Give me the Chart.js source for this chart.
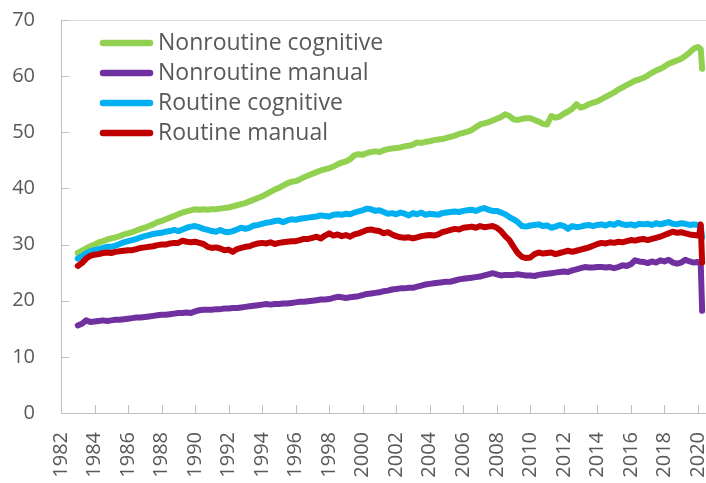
<!DOCTYPE html>
<html>
<head>
<meta charset="utf-8">
<script src="https://cdn.jsdelivr.net/npm/chart.js@4/dist/chart.umd.min.js"></script>
<style>
html,body{margin:0;padding:0;background:#fff;}
#wrap{width:706px;height:483px;}
</style>
</head>
<body>
<div id="wrap"><canvas id="c" width="706" height="483"></canvas></div>
<script>
// Series labels
const seriesNames = ["Nonroutine cognitive", "Nonroutine manual", "Routine cognitive", "Routine manual"];
// Quarterly observations 1983Q1..2019Q4, then monthly Jan..Apr 2020
const firstYear = 1983, lastQuarterYear = 2019;
const months2020 = [0, 1, 2, 3];

const nonroutineCognitive = [
 28.5,28.9,29.3,29.7, 30.0,30.4,30.6,30.9, 31.1,31.3,31.5,31.8, 32.0,32.2,32.5,32.8,
 33.0,33.3,33.6,34.0, 34.2,34.5,34.8,35.1, 35.4,35.7,35.9,36.1, 36.3,36.2,36.3,36.2,
 36.3,36.3,36.4,36.5, 36.6,36.8,37.0,37.2, 37.4,37.7,38.0,38.3, 38.6,39.0,39.4,39.8,
 40.1,40.5,40.9,41.2, 41.3,41.6,42.0,42.3, 42.6,42.9,43.2,43.4, 43.6,43.9,44.3,44.6,
 44.8,45.2,45.9,46.1, 46.0,46.3,46.5,46.6, 46.5,46.8,47.0,47.1, 47.2,47.3,47.5,47.6,
 47.8,48.2,48.1,48.3, 48.4,48.6,48.7,48.8, 49.0,49.2,49.4,49.7, 49.9,50.1,50.4,50.9,
 51.4,51.6,51.8,52.1, 52.4,52.7,53.2,52.9, 52.3,52.2,52.4,52.5, 52.5,52.2,51.9,51.5,
 51.4,52.9,52.6,52.8, 53.3,53.7,54.2,55.0, 54.4,54.6,55.0,55.3, 55.5,55.9,56.3,56.7,
 57.1,57.6,58.0,58.4, 58.8,59.2,59.4,59.7, 60.1,60.6,61.0,61.3, 61.7,62.2,62.5,62.8,
 63.1,63.6,64.2,64.9,
 65.2,65.0,64.8,61.3
];
const nonroutineManual = [
 15.6,15.9,16.5,16.2, 16.3,16.4,16.5,16.4, 16.5,16.6,16.6,16.7, 16.8,16.9,17.0,17.0,
 17.1,17.2,17.3,17.4, 17.5,17.5,17.6,17.7, 17.8,17.8,17.9,17.8, 18.1,18.3,18.4,18.4,
 18.4,18.5,18.5,18.6, 18.6,18.7,18.7,18.8, 18.9,19.0,19.1,19.2, 19.3,19.4,19.3,19.4,
 19.4,19.5,19.5,19.6, 19.7,19.8,19.8,19.9, 20.0,20.1,20.2,20.2, 20.3,20.5,20.7,20.6,
 20.5,20.6,20.7,20.8, 21.0,21.2,21.3,21.4, 21.5,21.7,21.8,22.0, 22.1,22.2,22.2,22.3,
 22.3,22.5,22.7,22.9, 23.0,23.1,23.2,23.3, 23.4,23.4,23.6,23.8, 23.9,24.0,24.1,24.2,
 24.3,24.5,24.7,24.9, 24.7,24.5,24.6,24.6, 24.6,24.7,24.6,24.5, 24.5,24.4,24.6,24.7,
 24.8,24.9,25.0,25.1, 25.2,25.1,25.4,25.6, 25.8,26.0,25.9,25.9, 26.0,26.0,25.9,26.0,
 25.8,26.0,26.3,26.2, 26.5,27.2,27.0,26.9, 26.7,27.0,26.8,27.2, 27.0,27.3,26.8,26.6,
 26.8,27.3,27.0,26.8,
 26.9,26.7,26.5,18.2
];
const routineCognitive = [
 27.5,27.9,28.4,28.8, 29.0,29.2,29.4,29.6, 29.6,29.8,30.1,30.4, 30.6,30.8,31.0,31.3,
 31.5,31.7,31.9,32.0, 32.1,32.3,32.4,32.6, 32.4,32.7,33.0,33.2, 33.3,33.1,32.8,32.6,
 32.4,32.3,32.6,32.3, 32.2,32.4,32.7,33.0, 32.8,33.0,33.4,33.5, 33.7,33.9,34.0,34.2,
 34.3,34.0,34.3,34.5, 34.4,34.6,34.7,34.8, 34.9,35.0,35.2,35.1, 35.0,35.3,35.4,35.3,
 35.5,35.4,35.7,35.9, 36.1,36.4,36.3,36.0, 36.1,35.8,35.5,35.6, 35.4,35.7,35.5,35.2,
 35.6,35.4,35.7,35.3, 35.5,35.4,35.3,35.6, 35.7,35.8,35.9,35.8, 36.0,36.1,36.2,36.0,
 36.3,36.5,36.2,36.0, 36.0,35.7,35.4,34.9, 34.5,34.0,33.3,33.2, 33.4,33.5,33.6,33.3,
 33.4,33.0,33.2,33.5, 33.3,32.8,33.3,33.1, 33.2,33.4,33.5,33.3, 33.5,33.6,33.4,33.7,
 33.5,33.9,33.6,33.5, 33.6,33.4,33.7,33.6, 33.7,33.5,33.8,33.6, 33.8,34.0,33.7,33.6,
 33.8,33.7,33.5,33.6,
 33.5,33.4,33.3,31.3
];
const routineManual = [
 26.2,26.7,27.5,28.0, 28.2,28.3,28.5,28.6, 28.5,28.7,28.8,28.9, 29.0,29.0,29.2,29.4,
 29.5,29.6,29.7,29.9, 30.0,30.0,30.2,30.3, 30.3,30.7,30.5,30.4, 30.5,30.3,30.1,29.6,
 29.4,29.5,29.3,29.0, 29.1,28.7,29.2,29.4, 29.6,29.7,30.0,30.2, 30.3,30.2,30.4,30.1,
 30.3,30.4,30.5,30.6, 30.6,30.8,31.0,31.0, 31.2,31.4,31.1,31.6, 32.0,31.6,31.8,31.5,
 31.7,31.4,31.8,32.0, 32.3,32.6,32.7,32.5, 32.4,32.0,32.2,31.8, 31.5,31.3,31.2,31.3,
 31.1,31.3,31.5,31.6, 31.7,31.6,31.8,32.2, 32.4,32.6,32.8,32.7, 33.0,33.1,33.2,33.0,
 33.3,33.1,33.2,33.3, 33.0,32.4,31.5,30.8, 29.6,28.5,27.8,27.6, 27.7,28.3,28.6,28.4,
 28.5,28.6,28.3,28.5, 28.7,28.9,28.7,28.9, 29.1,29.3,29.5,29.8, 30.1,30.3,30.2,30.4,
 30.3,30.5,30.4,30.6, 30.8,30.7,30.9,31.0, 30.8,31.0,31.2,31.4, 31.7,32.0,32.3,32.1,
 32.2,32.0,31.8,31.7,
 31.6,31.8,33.6,26.8
];
const seriesColors = ["#92D050", "#7030A0", "#00B0F0", "#C00000"];
const yTickValues = [0,10,20,30,40,50,60,70];

// time stamps (decimal years)
const dates = [];
for (let y = firstYear; y <= lastQuarterYear; y++) for (let q = 0; q < 4; q++) dates.push(y + q / 4);
months2020.forEach(m => dates.push(2020 + m / 12));

const seriesValues = [nonroutineCognitive, nonroutineManual, routineCognitive, routineManual];
const FONT = "'Open Sans', 'Noto Sans', sans-serif";
const TXT = "#595959";

const datasets = seriesValues.map((vals, i) => ({
  label: seriesNames[i],
  data: vals.map((v, k) => ({x: dates[k], y: v})),
  borderColor: seriesColors[i],
  backgroundColor: seriesColors[i],
  borderWidth: 6,
  pointRadius: 0,
  tension: 0,
  borderCapStyle: 'round',
  borderJoinStyle: 'round',
  fill: false,
  order: 4 - i
}));

const innerTicks = {
  id: 'innerTicks',
  afterDatasetsDraw(chart) {
    const {ctx, chartArea: a, scales: {x, y}} = chart;
    ctx.save();
    ctx.strokeStyle = '#bfbfbf';
    ctx.lineWidth = 1;
    y.ticks.forEach(t => {
      const py = Math.round(y.getPixelForValue(t.value)) + 0.5;
      ctx.beginPath(); ctx.moveTo(a.left, py); ctx.lineTo(a.left + 8, py); ctx.stroke();
    });
    x.ticks.forEach(t => {
      const px = Math.round(x.getPixelForValue(t.value)) + 0.5;
      ctx.beginPath(); ctx.moveTo(px, a.bottom); ctx.lineTo(px, a.bottom - 8); ctx.stroke();
    });
    ctx.restore();
  }
};

const innerLegend = {
  id: 'innerLegend',
  afterDraw(chart) {
    const ctx = chart.ctx;
    ctx.save();
    ctx.font = "23px " + FONT;
    ctx.textBaseline = 'middle';
    ctx.textAlign = 'left';
    chart.data.datasets.forEach((ds, i) => {
      const cy = 43 + i * 30;
      ctx.strokeStyle = ds.borderColor;
      ctx.lineWidth = 6.5;
      ctx.lineCap = 'round';
      ctx.beginPath(); ctx.moveTo(103, cy); ctx.lineTo(150, cy); ctx.stroke();
      ctx.fillStyle = TXT;
      ctx.fillText(ds.label, 158, cy);
    });
    ctx.restore();
  }
};

new Chart(document.getElementById('c'), {
  type: 'line',
  data: { datasets },
  plugins: [innerTicks, innerLegend],
  options: {
    responsive: false,
    animation: false,
    layout: { padding: { left: 0, right: 0, top: 20, bottom: 0 } },
    plugins: { legend: { display: false }, tooltip: { enabled: false } },
    scales: {
      x: {
        type: 'linear',
        min: 1982, max: 2020.48,
        border: { display: true, color: '#bfbfbf', width: 1 },
        grid: { display: false, drawTicks: false },
        afterFit: s => { s.height = 70; s.paddingLeft = 0; s.paddingRight = 0; },
        ticks: {
          stepSize: 2, includeBounds: false, autoSkip: false,
          maxRotation: 90, minRotation: 90,
          padding: 19,
          color: TXT,
          font: { family: FONT, size: 20 },
          callback: v => String(v)
        }
      },
      y: {
        min: 0, max: 70,
        border: { display: true, color: '#bfbfbf', width: 1 },
        grid: {
          drawTicks: false,
          color: c => (c.tick && c.tick.value === 70) ? '#d9d9d9' : 'rgba(0,0,0,0)'
        },
        afterBuildTicks: s => { s.ticks = yTickValues.map(v => ({value: v})); },
        afterFit: s => { s.width = 61; s.paddingTop = 0; s.paddingBottom = 0; },
        ticks: {
          padding: 26,
          color: TXT,
          font: { family: FONT, size: 20 },
          callback: v => String(v)
        }
      }
    }
  }
});
</script>
</body>
</html>
